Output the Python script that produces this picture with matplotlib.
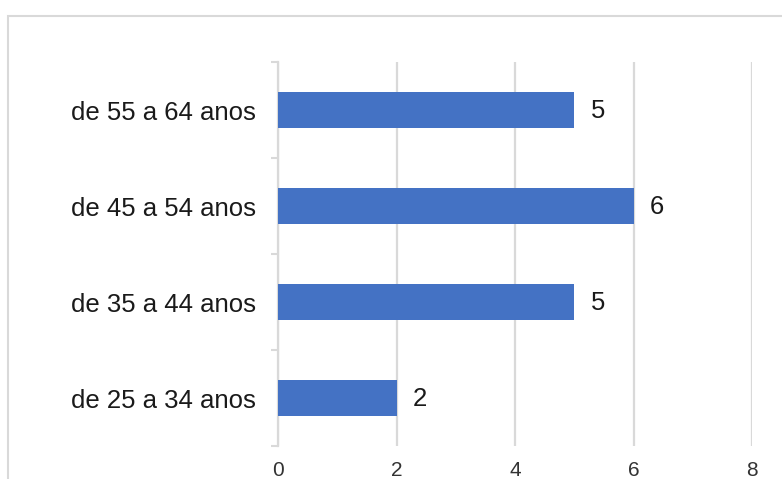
import matplotlib
matplotlib.use("Agg")
import matplotlib.pyplot as plt
from matplotlib.patches import Rectangle

# Faixas etárias e número de respondentes
faixas = ["de 25 a 34 anos", "de 35 a 44 anos", "de 45 a 54 anos", "de 55 a 64 anos"]
valores = [2, 5, 6, 5]
ticks_x = [0, 2, 4, 6, 8]

plt.rcParams["font.family"] = ["Liberation Sans", "DejaVu Sans"]

W, H = 782, 479
fig = plt.figure(figsize=(W / 100, H / 100), dpi=100)

# Moldura do gráfico (ultrapassa a borda direita e inferior)
fig.patches.append(Rectangle((8 / W, -0.1), 1.2, (H - 16) / H + 0.1,
                             transform=fig.transFigure, fill=False,
                             edgecolor="#d9d9d9", linewidth=1.5))

ax = fig.add_axes([278 / W, (H - 446) / H, (752 - 278) / W, 384 / H])

pos = range(len(faixas))
ax.barh(pos, valores, height=0.365, color="#4472c4", zorder=3)
for i, v in zip(pos, valores):
    ax.annotate(str(v), (v, i), xytext=(12, -1), textcoords="offset points",
                va="center", ha="left", fontsize=18.5, color="#1a1a1a")

ax.set_xlim(0, 8)
ax.set_ylim(-0.5, len(faixas) - 0.5)
ax.set_xticks(ticks_x)
ax.set_xticklabels([str(t) for t in ticks_x])
ax.set_yticks(list(pos))
ax.set_yticklabels(faixas)
ax.set_yticks([i - 0.5 for i in range(len(faixas) + 1)], minor=True)

ax.grid(axis="x", color="#d9d9d9", linewidth=1.6, zorder=0)
ax.tick_params(axis="x", length=0, pad=11, labelsize=15, labelcolor="#333333")
ax.tick_params(axis="y", which="major", length=0, pad=16, labelsize=18.5,
               labelcolor="#1a1a1a")
ax.tick_params(axis="y", which="minor", length=5, width=1.5, color="#d9d9d9")

for lado in ["top", "right", "bottom"]:
    ax.spines[lado].set_visible(False)
ax.spines["left"].set_color("#d9d9d9")
ax.spines["left"].set_linewidth(1.6)

fig.savefig("out.png", dpi=100)
